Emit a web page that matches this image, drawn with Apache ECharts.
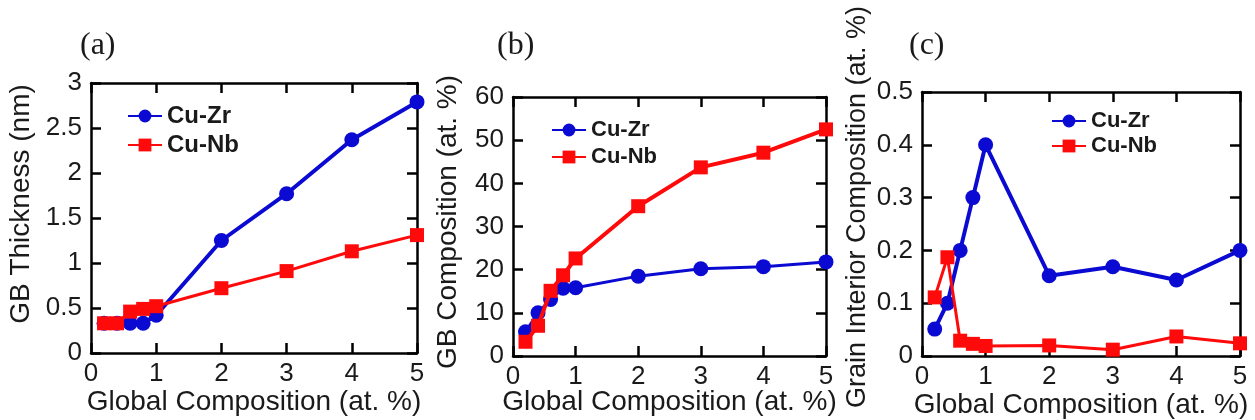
<!DOCTYPE html>
<html>
<head>
<meta charset="utf-8">
<script src="https://cdn.jsdelivr.net/npm/echarts@6/dist/echarts.min.js"></script>
<style>
html,body{margin:0;padding:0;background:#fff;}
#chart{width:1255px;height:420px;}
</style>
</head>
<body>
<div id="chart"></div>
<script>
// ---- data ----
const xVals = [0.2, 0.4, 0.6, 0.8, 1, 2, 3, 4, 5];
const thickZr = [0.33, 0.33, 0.33, 0.33, 0.42, 1.25, 1.77, 2.37, 2.79];
const thickNb = [0.33, 0.33, 0.46, 0.49, 0.52, 0.72, 0.91, 1.13, 1.31];
const compZr = [5.6, 10.0, 13.1, 15.7, 15.8, 18.5, 20.2, 20.7, 21.8];
const compNb = [3.3, 7.0, 15.1, 18.7, 22.6, 34.7, 43.7, 47.1, 52.5];
const giZr = [0.051, 0.10, 0.20, 0.30, 0.40, 0.152, 0.169, 0.144, 0.20];
const giNb = [0.111, 0.187, 0.029, 0.023, 0.019, 0.020, 0.012, 0.037, 0.024];
const seriesNames = ['Cu-Zr', 'Cu-Nb'];
const panelLabels = ['(a)', '(b)', '(c)'];
const xTitle = 'Global Composition (at. %)';
const yTitles = ['GB Thickness (nm)', 'GB Composition (at. %)', 'Grain Interior Composition (at. %)'];
const yRanges = [[0, 3, 0.5], [0, 60, 10], [0, 0.5, 0.1]];

const BLUE = '#0a0ad2';
const RED = '#ff0a0a';
const TXT = '#1a1a1a';
const SANS = '"Liberation Sans", Arial, sans-serif';

const grids = [
  {left: 91, top: 83, width: 326, height: 270, outerBoundsMode: 'none', containLabel: false},
  {left: 513, top: 97, width: 313, height: 259, outerBoundsMode: 'none', containLabel: false},
  {left: 922, top: 92, width: 318, height: 264, outerBoundsMode: 'none', containLabel: false}
];
const yNameGaps = [56, 51, 51];
const yNameShift = [28, 9, 34];
const yNameSize = [28, 28, 27];
const xNameGaps = [35, 32, 35];
const legendPos = [
  {left: 127, top: 104, font: 24, gap: 5},
  {left: 551, top: 119, font: 22, gap: 5},
  {left: 1051, top: 110, font: 22, gap: 3}
];
const labelPos = [{left: 80, top: 30}, {left: 497, top: 30}, {left: 909, top: 30}];

const axisLine = {show: true, onZero: false, lineStyle: {color: '#000', width: 2.5}};
const axisTick = {show: true, inside: true, length: 10, lineStyle: {color: '#000', width: 2.5}};

const xAxes = [], yAxes = [], series = [], legends = [], titles = [];
const dataSets = [[thickZr, thickNb], [compZr, compNb], [giZr, giNb]];

grids.forEach((g, i) => {
  const [ymin, ymax, yint] = yRanges[i];
  xAxes.push({
    type: 'value', gridIndex: i, min: 0, max: 5, interval: 1, position: 'bottom',
    axisLine, axisTick, splitLine: {show: false},
    axisLabel: {show: true, margin: 8, color: TXT, fontSize: 26, fontFamily: SANS},
    name: xTitle, nameLocation: 'middle', nameGap: xNameGaps[i], nameMoveOverlap: false,
    nameTextStyle: {color: TXT, fontSize: 28, fontFamily: SANS}
  });
  xAxes.push({
    type: 'value', gridIndex: i, min: 0, max: 5, interval: 1, position: 'top',
    axisLine, axisTick, splitLine: {show: false}, axisLabel: {show: false}
  });
  yAxes.push({
    type: 'value', gridIndex: i, min: ymin, max: ymax, interval: yint, position: 'left',
    axisLine, axisTick, splitLine: {show: false},
    axisLabel: {show: true, margin: 9, color: TXT, fontSize: 26, fontFamily: SANS},
    name: yTitles[i], nameLocation: 'middle', nameGap: yNameGaps[i], nameMoveOverlap: false,
    nameTextStyle: {color: TXT, fontSize: yNameSize[i], fontFamily: SANS, padding: [0, 0, 0, yNameShift[i]]}
  });
  yAxes.push({
    type: 'value', gridIndex: i, min: ymin, max: ymax, interval: yint, position: 'right',
    axisLine, axisTick, splitLine: {show: false}, axisLabel: {show: false}
  });
  const cols = [BLUE, RED];
  const syms = ['circle', 'rect'];
  const widths = i === 1 ? [3, 4] : [4, 3];
  dataSets[i].forEach((arr, k) => {
    series.push({
      type: 'line', name: seriesNames[k], xAxisIndex: 2 * i, yAxisIndex: 2 * i,
      data: xVals.map((x, j) => [x, arr[j]]),
      symbol: syms[k], symbolSize: k === 0 ? 15 : 14, showSymbol: true,
      lineStyle: {color: cols[k], width: widths[k]},
      itemStyle: {color: cols[k]},
      z: 2 + k, animation: false
    });
  });
  const lp = legendPos[i];
  legends.push({
    orient: 'vertical', left: lp.left, top: lp.top, itemWidth: 34, itemHeight: 16,
    itemGap: lp.gap, padding: 0, data: seriesNames, selectedMode: false,
    textStyle: {fontSize: lp.font, fontWeight: 'bold', color: TXT, fontFamily: SANS, lineHeight: lp.font}
  });
  titles.push({
    text: panelLabels[i], left: labelPos[i].left, top: labelPos[i].top, padding: 0,
    textStyle: {fontSize: 32, fontWeight: 'normal', color: TXT, fontFamily: '"Liberation Serif", "Times New Roman", serif'}
  });
});

const chart = echarts.init(document.getElementById('chart'), null, {renderer: 'canvas'});
chart.setOption({
  animation: false,
  backgroundColor: '#fff',
  title: titles,
  grid: grids,
  xAxis: xAxes,
  yAxis: yAxes,
  legend: legends,
  series: series
});
</script>
</body>
</html>
